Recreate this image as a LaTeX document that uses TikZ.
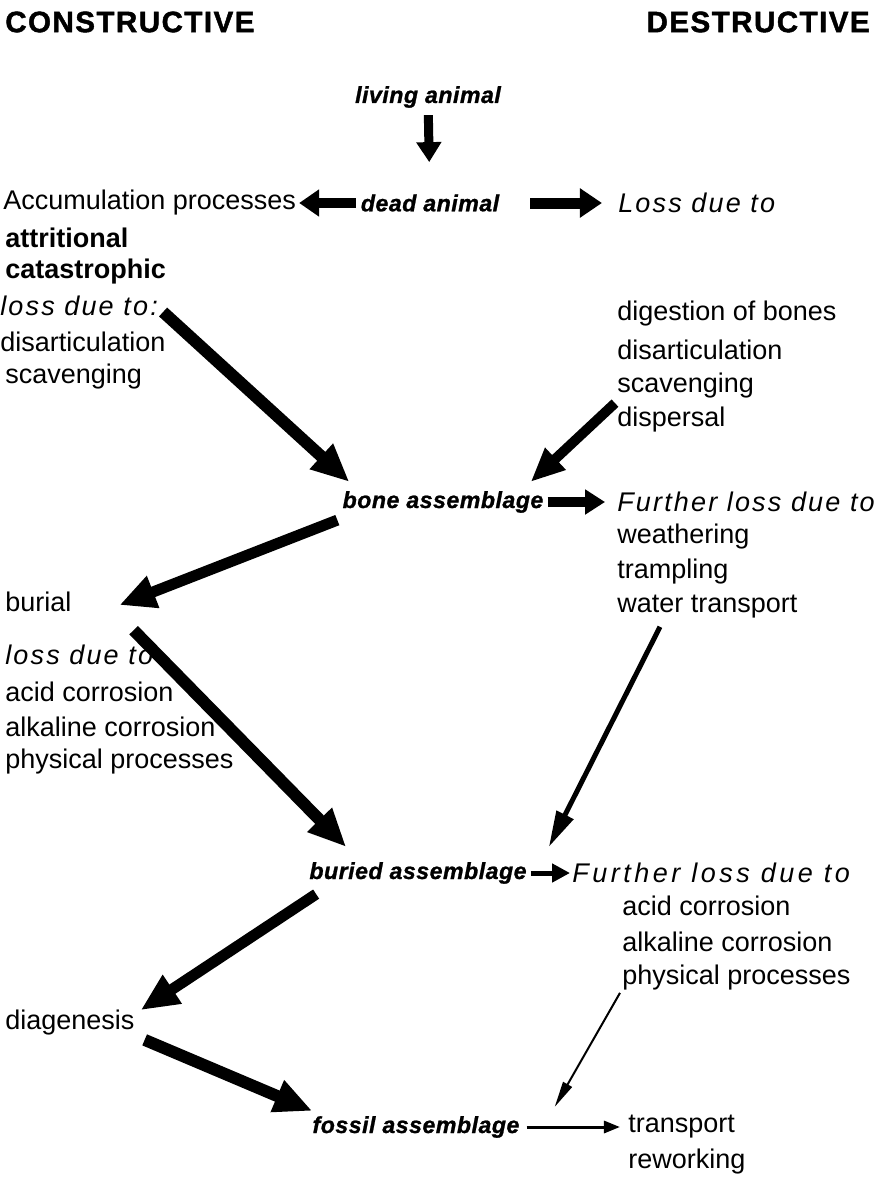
\documentclass[tikz,border=0pt]{standalone}
\usepackage{fontspec}
\setmainfont{Liberation Sans}
\newfontfamily\lossfont{Liberation Sans}[LetterSpace=8]
\newfontfamily\widelossfont{Liberation Sans}[LetterSpace=13]
\newfontfamily\stagefont{Liberation Sans}[FakeBold=1, LetterSpace=2]
\newfontfamily\headfont{Liberation Sans}[LetterSpace=5, FakeBold=1.5]
\usetikzlibrary{arrows.meta}
\usetikzlibrary{calc}
\tikzset{
  txt/.style={font=\fontsize{19.2pt}{24pt}\selectfont, inner sep=0pt, anchor=west},
  losstxt/.style={txt, font=\fontsize{19.2pt}{24pt}\lossfont\itshape},
  boldtxt/.style={txt, font=\fontsize{19.2pt}{24pt}\selectfont\bfseries},
  stage/.style={font=\fontsize{16.5pt}{20pt}\stagefont\bfseries\itshape, inner sep=0pt},
  heading/.style={font=\fontsize{21pt}{24pt}\headfont\bfseries, inner sep=0pt},
  % sizes in pixels of the scan, 1px = 0.7113pt
  fat/.style args={#1 head #2x#3}{line width=#1*0.7113pt,
    -{Triangle[length=#2pt, width=#3pt, scale=0.7113]}},
}

\begin{document}
\begin{tikzpicture}[x=0.025cm, y=-0.025cm]
  \useasboundingbox (0,0) rectangle (878,1190);

  \node[heading, anchor=west] (cons) at (5,22) {CONSTRUCTIVE};
  \node[heading, anchor=east] (destr) at (870,22) {DESTRUCTIVE};

  \node[stage] (living) at (428,97) {living animal};
  \node[stage] (dead) at (430,203) {dead animal};
  \node[stage] (bone) at (443,502) {bone assemblage};
  \node[stage] (buried) at (418,873) {buried assemblage};
  \node[stage] (fossil) at (416,1127) {fossil assemblage};

  % constructive side
  \node[txt] (accum) at (3,203) {Accumulation processes};
  \node[boldtxt] (attr) at (5,238) {attritional};
  \node[boldtxt] (catas) at (5,272) {catastrophic};
  \node[losstxt] (lossA) at (0,306) {loss due to:};
  \node[txt] (disartA) at (0,342) {disarticulation};
  \node[txt] (scavA) at (5,377) {scavenging};
  \node[txt] (burial) at (5,602) {burial};
  \node[losstxt] (lossB) at (5,655) {loss due to};
  \node[txt] (acidA) at (5,692) {acid corrosion};
  \node[txt] (alkA) at (5,727) {alkaline corrosion};
  \node[txt] (physA) at (5,762) {physical processes};
  \node[txt] (diag) at (5,1023) {diagenesis};

  % destructive side
  \node[losstxt] (lossC) at (618,203) {Loss due to};
  \node[txt] (digest) at (617,314) {digestion of bones};
  \node[txt] (disartB) at (617,350) {disarticulation};
  \node[txt] (scavB) at (617,386) {scavenging};
  \node[txt] (dispersal) at (617,420) {dispersal};
  \node[losstxt] (furtherA) at (617,502) {Further loss due to};
  \node[txt] (weather) at (617,537) {weathering};
  \node[txt] (trampl) at (617,572) {trampling};
  \node[txt] (water) at (617,607) {water transport};
  \node[losstxt, font=\fontsize{19.2pt}{24pt}\widelossfont\itshape] (furtherB) at (572,873) {Further loss due to};
  \node[txt] (acidB) at (622,906) {acid corrosion};
  \node[txt] (alkB) at (622,942) {alkaline corrosion};
  \node[txt] (physB) at (622,978) {physical processes};
  \node[txt] (transp) at (628,1127) {transport};
  \node[txt] (rework) at (628,1162) {reworking};

  \draw[fat=9 head 20x24, shorten <=5pt, shorten >=22.8pt] (living) -- (dead);
  \draw[fat=10 head 20x26, shorten <=3.6pt, shorten >=2.1pt] (dead) -- (accum);
  \draw[fat=11 head 22x28, shorten <=22pt, shorten >=11.4pt] (dead.east) -- (lossC.west);
  \draw[fat=12 head 38x32] ($(lossA.east)+(5,6)$) -- ($(bone.north west)+(7,-9)$);
  \draw[fat=10 head 34x28] ($(dispersal.north west)+(-2,-4)$) -- ($(bone.north east)+(-13,-9)$);
  \draw[fat=10 head 20x24, shorten <=2.8pt, shorten >=8.5pt] (bone.east) -- (furtherA.west);
  \draw[fat=11 head 36x32] ($(bone.south west)+(-5,7)$) -- ($(burial.east)+(48,3)$);
  \draw[fat=12 head 38x32] ($(burial.south east)+(62,18)$) -- ($(buried.north west)+(37,-15)$);
  \draw[fat=5 head 36x18] ($(water.south west)+(43,8)$) -- ($(buried.north east)+(22,-15)$);
  \draw[fat=5 head 18x18, shorten <=2.8pt, shorten >=1.4pt] (buried.east) -- (furtherB.west);
  \draw[fat=11 head 38x32] ($(buried.south west)+(7,10)$) -- ($(diag.north east)+(6,0)$);
  \draw[fat=12 head 38x32] ($(diag.south east)+(10,4)$) -- ($(fossil.north west)+(0,-5)$);
  \draw[fat=2 head 26x10] ($(physB.south west)+(-2,2)$) -- ($(fossil.north east)+(35,-9)$);
  \draw[fat=3 head 16x12, shorten <=5pt, shorten >=5.7pt] (fossil.east) -- (transp.west);
\end{tikzpicture}
\end{document}
